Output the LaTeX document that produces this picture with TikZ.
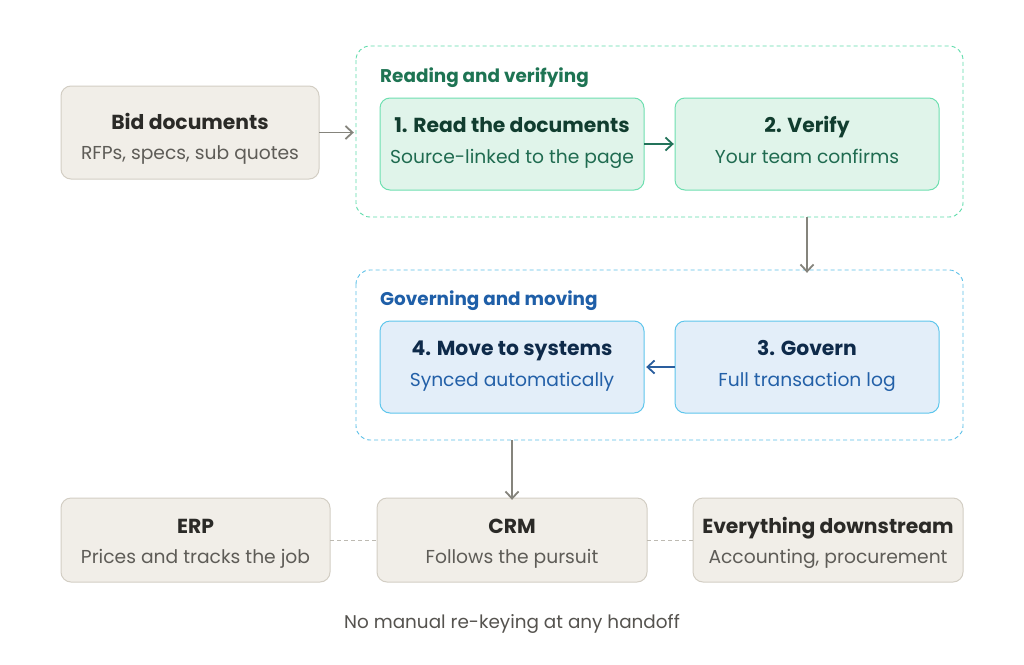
\documentclass[tikz,border=0pt]{standalone}
\usepackage{fontspec}
\setmainfont{Poppins}
\usetikzlibrary{arrows.meta}
\definecolor{neutralfill}{HTML}{F1EEE8}
\definecolor{neutraldraw}{HTML}{D3CEC4}
\definecolor{neutraltitle}{HTML}{2B2A27}
\definecolor{neutralsub}{HTML}{5E5C57}
\definecolor{greenfill}{HTML}{E0F4EA}
\definecolor{greendraw}{HTML}{6EDFB0}
\definecolor{greentitle}{HTML}{113D2F}
\definecolor{greensub}{HTML}{1F6B50}
\definecolor{greenlabel}{HTML}{1E7453}
\definecolor{greengroup}{HTML}{5EDCAA}
\definecolor{greenarrow}{HTML}{23735A}
\definecolor{bluefill}{HTML}{E3EEF9}
\definecolor{bluedraw}{HTML}{5EC6EC}
\definecolor{bluetitle}{HTML}{0E2A4A}
\definecolor{bluesub}{HTML}{2360A8}
\definecolor{bluelabel}{HTML}{1F5FA8}
\definecolor{bluegroup}{HTML}{5BC0E8}
\definecolor{bluearrow}{HTML}{2A5E9E}
\definecolor{grayarrow}{HTML}{85847C}
\definecolor{graydash}{HTML}{BDBAB2}
\definecolor{footer}{HTML}{55534F}
\tikzset{
  x=1pt, y=-1pt,
  box/.style={rounded corners=10pt, line width=1pt},
  neutralbox/.style={box, fill=neutralfill, draw=neutraldraw},
  greenbox/.style={box, fill=greenfill, draw=greendraw},
  bluebox/.style={box, fill=bluefill, draw=bluedraw},
  group/.style={rounded corners=14pt, dashed, dash pattern=on 4pt off 3pt, line width=0.9pt},
  ttl/.style={font=\fontsize{20.3}{22}\selectfont\bfseries, anchor=base, inner sep=0pt},
  sub/.style={font=\fontsize{18.7}{21}\selectfont, anchor=base, inner sep=0pt},
  grouplabel/.style={font=\fontsize{18.4}{20}\selectfont\bfseries, anchor=base west, inner sep=0pt},
  arr/.style={-{Straight Barb[length=7pt,width=13pt]}, line width=1.8pt},
}
\begin{document}
\begin{tikzpicture}
\useasboundingbox (0,0) rectangle (1024,664);
\fill[white] (0,0) rectangle (1024,664);
% groups
\draw[group, draw=greengroup] (356,46) rectangle (963,217);
\node (g1) at (659.5,131.5) [minimum width=607pt, minimum height=171pt, inner sep=0pt] {};
\node[grouplabel, text=greenlabel] (g1l) at (380,82.5) {Reading and verifying};
\draw[group, draw=bluegroup] (356,270) rectangle (963,440);
\node (g2) at (659.5,355) [minimum width=607pt, minimum height=170pt, inner sep=0pt] {};
\node[grouplabel, text=bluelabel] (g2l) at (380,305.5) {Governing and moving};
% bid
\draw[neutralbox] (61,86) rectangle (319,179);
\node (bid) at (190,132.5) [minimum width=258pt, minimum height=93pt, inner sep=0pt] {};
\node[ttl, text=neutraltitle] (bidt) at (190,129.5) {Bid documents};
\node[sub, text=neutralsub] (bids) at (190,159.5) {RFPs, specs, sub quotes};
% step 1 & 2
\draw[greenbox] (380,98) rectangle (644,190);
\node (s1) at (512,144) [minimum width=264pt, minimum height=92pt, inner sep=0pt] {};
\node[ttl, text=greentitle] at (512,132.5) {1. Read the documents};
\node[sub, text=greensub] at (512,163) {Source-linked to the page};
\draw[greenbox] (675,98) rectangle (939,190);
\node (s2) at (807,144) [minimum width=264pt, minimum height=92pt, inner sep=0pt] {};
\node[ttl, text=greentitle] at (807,132.5) {2. Verify};
\node[sub, text=greensub] at (807,163) {Your team confirms};
% step 4 & 3
\draw[bluebox] (380,321) rectangle (644,413);
\node (s4) at (512,367) [minimum width=264pt, minimum height=92pt, inner sep=0pt] {};
\node[ttl, text=bluetitle] at (512,355.5) {4. Move to systems};
\node[sub, text=bluesub] at (512,386) {Synced automatically};
\draw[bluebox] (675,321) rectangle (939,413);
\node (s3) at (807,367) [minimum width=264pt, minimum height=92pt, inner sep=0pt] {};
\node[ttl, text=bluetitle] at (807,355.5) {3. Govern};
\node[sub, text=bluesub] at (807,386) {Full transaction log};
% bottom systems
\draw[neutralbox] (61,498) rectangle (330,582);
\node (erp) at (195.5,540) [minimum width=269pt, minimum height=84pt, inner sep=0pt] {};
\node[ttl, text=neutraltitle] at (195.5,533) {ERP};
\node[sub, text=neutralsub] at (195.5,563.5) {Prices and tracks the job};
\draw[neutralbox] (377,498) rectangle (647,582);
\node (crm) at (512,540) [minimum width=270pt, minimum height=84pt, inner sep=0pt] {};
\node[ttl, text=neutraltitle] at (512,533) {CRM};
\node[sub, text=neutralsub] at (512,563.5) {Follows the pursuit};
\draw[neutralbox] (693,498) rectangle (963,582);
\node (down) at (828,540) [minimum width=270pt, minimum height=84pt, inner sep=0pt] {};
\node[ttl, text=neutraltitle] at (828,533) {Everything downstream};
\node[sub, text=neutralsub] at (828,563.5) {Accounting, procurement};
% connectors
\draw[arr, draw=grayarrow] (bid.east) -- ([xshift=-2pt]g1.west |- bid.east);
\draw[arr, draw=greenarrow] (s1.east) -- ([xshift=-1pt]s2.west);
\draw[arr, draw=grayarrow] (g1.south -| s2.south) -- ([yshift=-3pt]g2.north -| s2.south);
\draw[arr, draw=bluearrow] (s3.west) -- ([xshift=2pt]s4.east);
\draw[arr, draw=grayarrow] (g2.south -| crm.north) -- ([yshift=-2pt]crm.north);
\draw[draw=graydash, dashed, dash pattern=on 4pt off 3pt, line width=0.8pt] (erp.east) -- (crm.west);
\draw[draw=graydash, dashed, dash pattern=on 4pt off 3pt, line width=0.8pt] (crm.east) -- (down.west);
% footer
\node[sub, text=footer, font=\fontsize{18.4}{20}\selectfont] (foot) at (512,628) {No manual re-keying at any handoff};
\end{tikzpicture}
\end{document}
